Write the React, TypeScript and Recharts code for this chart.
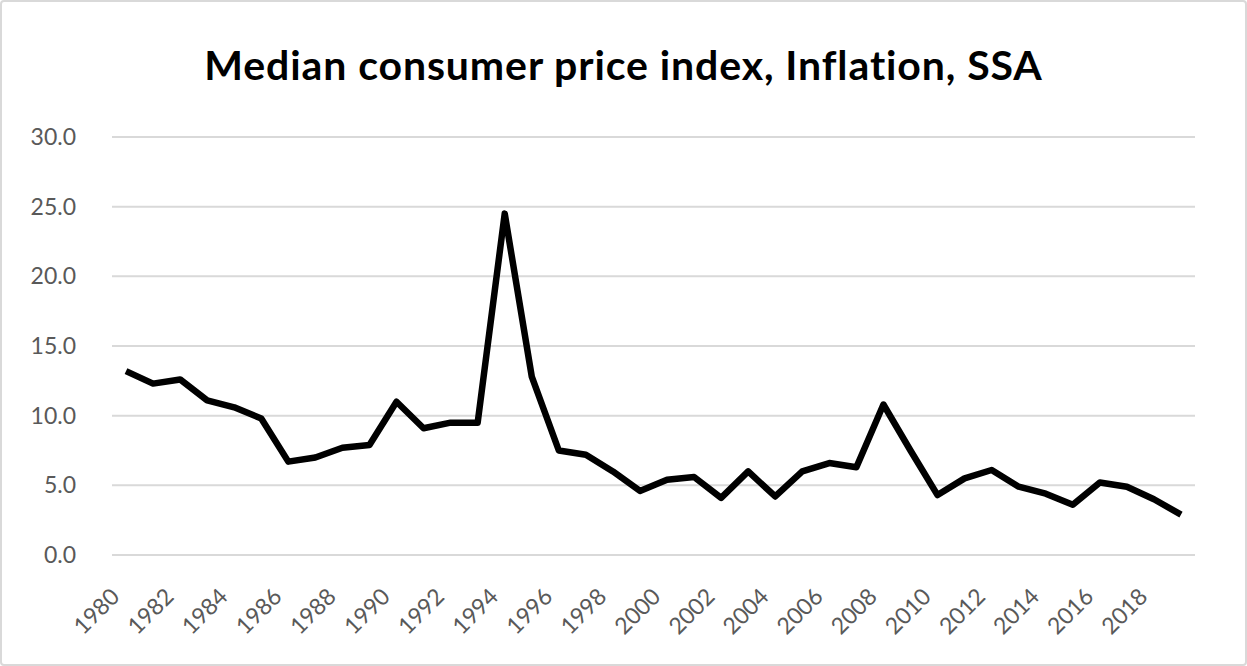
import React from "react";
import { CartesianGrid, Line, LineChart, XAxis, YAxis } from "recharts";

const years = [
  1980, 1981, 1982, 1983, 1984, 1985, 1986, 1987, 1988, 1989, 1990, 1991, 1992,
  1993, 1994, 1995, 1996, 1997, 1998, 1999, 2000, 2001, 2002, 2003, 2004, 2005,
  2006, 2007, 2008, 2009, 2010, 2011, 2012, 2013, 2014, 2015, 2016, 2017, 2018,
  2019,
];

const inflation = [
  13.2, 12.3, 12.6, 11.1, 10.6, 9.8, 6.7, 7.0, 7.7, 7.9, 11.0, 9.1, 9.5, 9.5,
  24.5, 12.8, 7.5, 7.2, 6.0, 4.6, 5.4, 5.6, 4.1, 6.0, 4.2, 6.0, 6.6, 6.3, 10.8,
  7.5, 4.3, 5.5, 6.1, 4.9, 4.4, 3.6, 5.2, 4.9, 4.0, 2.9,
];

const yTicks = [0, 5, 10, 15, 20, 25, 30];

const data = years.map((year, i) => ({ year: String(year), value: inflation[i] }));

const FONT = "Lato, 'Open Sans', sans-serif";

// rotated year label, end of text sits just below the tick
const YearTick = ({ x = 0, y = 0, payload }: { x?: number; y?: number; payload?: { value: string } }) => (
  <g transform={`translate(${x - 5}, ${y + 35}) rotate(-45)`}>
    <text x={0} y={0} textAnchor="end" fill="#595959" fontSize={23} fontFamily={FONT}>
      {payload?.value}
    </text>
  </g>
);

export default function App() {
  return (
    <div
      style={{
        position: "absolute",
        left: 0,
        top: 0,
        width: 1247,
        height: 666,
        background: "#fff",
        boxSizing: "border-box",
        border: "2px solid #d9d9d9",
        borderRadius: 4,
      }}
    >
      <div
        style={{
          position: "absolute",
          left: -2,
          width: 1247,
          top: 38,
          textAlign: "center",
          fontFamily: FONT,
          fontWeight: 700,
          fontSize: 41,
          letterSpacing: 0.9,
          color: "#000",
        }}
      >
        Median consumer price index, Inflation, SSA
      </div>
      <div style={{ position: "absolute", left: -2, top: -2 }}>
        <LineChart
          width={1247}
          height={666}
          data={data}
          margin={{ top: 137, right: 52, bottom: 0, left: 0 }}
        >
          <CartesianGrid vertical={false} stroke="#d9d9d9" strokeWidth={2} />
          <XAxis
            dataKey="year"
            interval={1}
            axisLine={false}
            tickLine={false}
            height={111}
            padding={{ left: 14, right: 14 }}
            tick={<YearTick />}
          />
          <YAxis
            domain={[0, 30]}
            ticks={yTicks}
            width={112}
            axisLine={false}
            tickLine={false}
            tickMargin={30}
            tickFormatter={(v: number) => v.toFixed(1)}
            tick={{ fill: "#595959", fontSize: 23, fontFamily: FONT }}
          />
          <Line
            type="linear"
            dataKey="value"
            stroke="#000"
            strokeWidth={6.5}
            strokeLinejoin="round"
            dot={false}
            isAnimationActive={false}
          />
        </LineChart>
      </div>
    </div>
  );
}
